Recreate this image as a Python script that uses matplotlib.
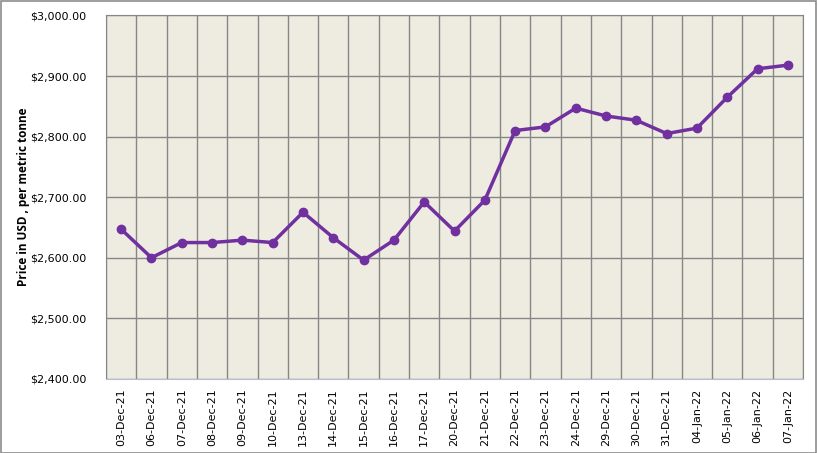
import matplotlib
matplotlib.use("Agg")
import matplotlib.pyplot as plt
from matplotlib.patches import Rectangle
import numpy as np

dates = ["03-Dec-21", "06-Dec-21", "07-Dec-21", "08-Dec-21", "09-Dec-21", "10-Dec-21",
         "13-Dec-21", "14-Dec-21", "15-Dec-21", "16-Dec-21", "17-Dec-21", "20-Dec-21",
         "21-Dec-21", "22-Dec-21", "23-Dec-21", "24-Dec-21", "29-Dec-21", "30-Dec-21",
         "31-Dec-21", "04-Jan-22", "05-Jan-22", "06-Jan-22", "07-Jan-22"]
prices = [2647, 2600, 2625, 2625, 2629, 2625, 2675, 2633, 2596, 2629, 2692, 2644,
          2695, 2810, 2816, 2847, 2834, 2827, 2805, 2814, 2865, 2912, 2918]
y_ticks = [2400, 2500, 2600, 2700, 2800, 2900, 3000]

fig = plt.figure(figsize=(8.18, 4.53), dpi=100)
fig.patches.append(Rectangle((0.001, 0.001), 0.997, 0.996, transform=fig.transFigure,
                             fill=False, edgecolor="#8c8c8c", linewidth=1.2))
ax = fig.add_axes([0.1296, 0.1638, 0.8521, 0.802])
ax.set_facecolor("#EEECE1")

x = np.arange(len(dates))
ax.plot(x, prices, color="#7030A0", linewidth=2.5, marker="o", markersize=6, zorder=3)

ax.set_xlim(-0.5, len(dates) - 0.5)
ax.set_ylim(y_ticks[0], y_ticks[-1])
ax.set_yticks(y_ticks)
ax.set_yticklabels([f"${v:,.2f}" for v in y_ticks], fontsize=8, family="DejaVu Sans")
ax.set_xticks(x)
ax.set_xticklabels(dates, rotation=90, fontsize=8, family="DejaVu Sans")
ax.set_xticks(np.arange(-0.5, len(dates), 1), minor=True)
ax.tick_params(axis="x", which="major", length=0, pad=7)
ax.tick_params(axis="x", which="minor", length=0)
ax.tick_params(axis="y", length=0, pad=14)
ax.grid(True, axis="x", which="minor", color="#868686", linewidth=1.0)
ax.grid(True, axis="y", which="major", color="#868686", linewidth=1.0)
ax.set_axisbelow(True)
for s in ["left", "top", "right"]:
    ax.spines[s].set_color("#868686")
ax.spines["bottom"].set_color("#b4c0d8")

ax.set_ylabel("Price in USD , per metric tonne", fontsize=8.5, fontweight="bold",
              family="Open Sans")
ax.yaxis.set_label_coords(-0.109, 0.5)

fig.savefig("out.png", dpi=100)
